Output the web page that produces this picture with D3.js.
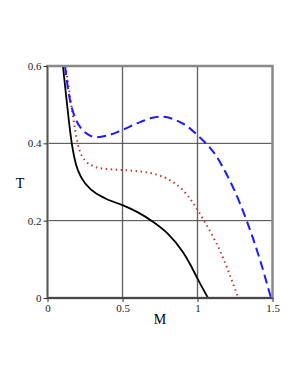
<!DOCTYPE html>
<html>
<head>
<meta charset="utf-8">
<script src="https://cdn.jsdelivr.net/npm/d3@7"></script>
<style>
  body { margin: 0; background: #fff; }
  text { font-family: "Liberation Serif", "DejaVu Serif", serif; }
</style>
</head>
<body>
<div id="vis"></div>
<script>
// curve data: [M, T]
var solid_pts = [[0.103,0.60],[0.125,0.52],[0.145,0.45],[0.165,0.392],[0.19,0.345],[0.228,0.31],
  [0.295,0.279],[0.383,0.258],[0.5,0.240],[0.6,0.222],[0.7,0.198],[0.8,0.167],[0.9,0.120],
  [0.95,0.088],[1.0,0.050],[1.07,0]];
var dash_pts = [[0.117,0.60],[0.139,0.535],[0.16,0.495],[0.183,0.467],[0.228,0.437],[0.275,0.422],
  [0.325,0.416],[0.405,0.421],[0.495,0.434],[0.617,0.455],[0.70,0.466],[0.77,0.469],[0.85,0.461],
  [0.928,0.445],[1.0,0.421],[1.061,0.398],[1.12,0.37],[1.172,0.336],[1.25,0.275],[1.328,0.2],
  [1.417,0.098],[1.49,0]];
var dot_pts = [[0.12,0.60],[0.147,0.53],[0.165,0.482],[0.183,0.438],[0.2,0.402],[0.22,0.375],
  [0.25,0.356],[0.3,0.342],[0.361,0.335],[0.5,0.331],[0.6,0.328],[0.7,0.322],[0.8,0.308],
  [0.9,0.280],[0.97,0.246],[1.043,0.2],[1.15,0.122],[1.272,0]];

var x_ticks = [0, 0.5, 1, 1.5];
var y_ticks = [0, 0.2, 0.4, 0.6];

var width = 300, height = 388;
var margin = {top: 66, bottom: 90, left: 47.5, right: 27.5};

var svg = d3.select('#vis')
    .append('svg')
    .attr('width', width)
    .attr('height', height);

var w = width - margin.left - margin.right;
var h = height - margin.top - margin.bottom;

var g = svg.append('g')
    .attr('transform', 'translate(' + margin.left + ',' + margin.top + ')');

var x_scale = d3.scaleLinear().domain([0, 1.5]).range([0, w]);
var y_scale = d3.scaleLinear().domain([0, 0.6]).range([h, 0]);

// grid
g.selectAll('.vgrid')
    .data(x_ticks.slice(1, 3))
    .enter().append('line')
    .attr('x1', function(d) { return x_scale(d); })
    .attr('x2', function(d) { return x_scale(d); })
    .attr('y1', 0).attr('y2', h)
    .attr('stroke', '#666').attr('stroke-width', 1.4);

g.selectAll('.hgrid')
    .data(y_ticks.slice(1, 3))
    .enter().append('line')
    .attr('y1', function(d) { return y_scale(d); })
    .attr('y2', function(d) { return y_scale(d); })
    .attr('x1', 0).attr('x2', w)
    .attr('stroke', '#444').attr('stroke-width', 1);

// curves
var line = d3.line()
    .x(function(d) { return x_scale(d[0]); })
    .y(function(d) { return y_scale(d[1]); })
    .curve(d3.curveMonotoneX);

g.append('path').datum(dot_pts)
    .attr('d', line).attr('fill', 'none')
    .attr('stroke', '#c0392b').attr('stroke-width', 2)
    .attr('stroke-dasharray', '1.5,3.5');

g.append('path').datum(dash_pts)
    .attr('d', line).attr('fill', 'none')
    .attr('stroke', '#1a1aff').attr('stroke-width', 2)
    .attr('stroke-dasharray', '9,5');

g.append('path').datum(solid_pts)
    .attr('d', line).attr('fill', 'none')
    .attr('stroke', '#000').attr('stroke-width', 1.8);

// frame
g.append('rect')
    .attr('x', 0).attr('y', 0).attr('width', w).attr('height', h)
    .attr('fill', 'none').attr('stroke', '#888').attr('stroke-width', 2.5);
g.append('line').attr('x1', 0).attr('x2', w).attr('y1', h).attr('y2', h)
    .attr('stroke', '#333').attr('stroke-width', 1.5);
g.append('line').attr('x1', 0).attr('x2', 0).attr('y1', 0).attr('y2', h)
    .attr('stroke', '#555').attr('stroke-width', 1);

// axes
var y_axis = d3.axisLeft(y_scale).tickValues(y_ticks).tickSize(4).tickPadding(2)
    .tickFormat(function(d) { return d === 0 ? '0' : d3.format('.1f')(d); });
var x_axis = d3.axisBottom(x_scale).tickValues(x_ticks).tickSize(4).tickPadding(2)
    .tickFormat(function(d) { return d === 0 ? '0' : (d % 1 === 0 ? d : d3.format('.1f')(d)); });

var ya = g.append('g').call(y_axis);
var xa = g.append('g').attr('transform', 'translate(0,' + h + ')').call(x_axis);
[ya, xa].forEach(function(a) {
  a.select('.domain').remove();
  a.selectAll('line').attr('stroke', '#333');
  a.selectAll('text').style('font-family', '"Liberation Serif", serif')
    .style('font-size', '11px').attr('fill', '#222');
});

// axis labels
svg.append('text').attr('x', 20).attr('y', 188)
    .attr('text-anchor', 'middle').style('font-size', '14px').text('T');
svg.append('text').attr('x', 160).attr('y', 324)
    .attr('text-anchor', 'middle').style('font-size', '14px').text('M');
</script>
</body>
</html>
